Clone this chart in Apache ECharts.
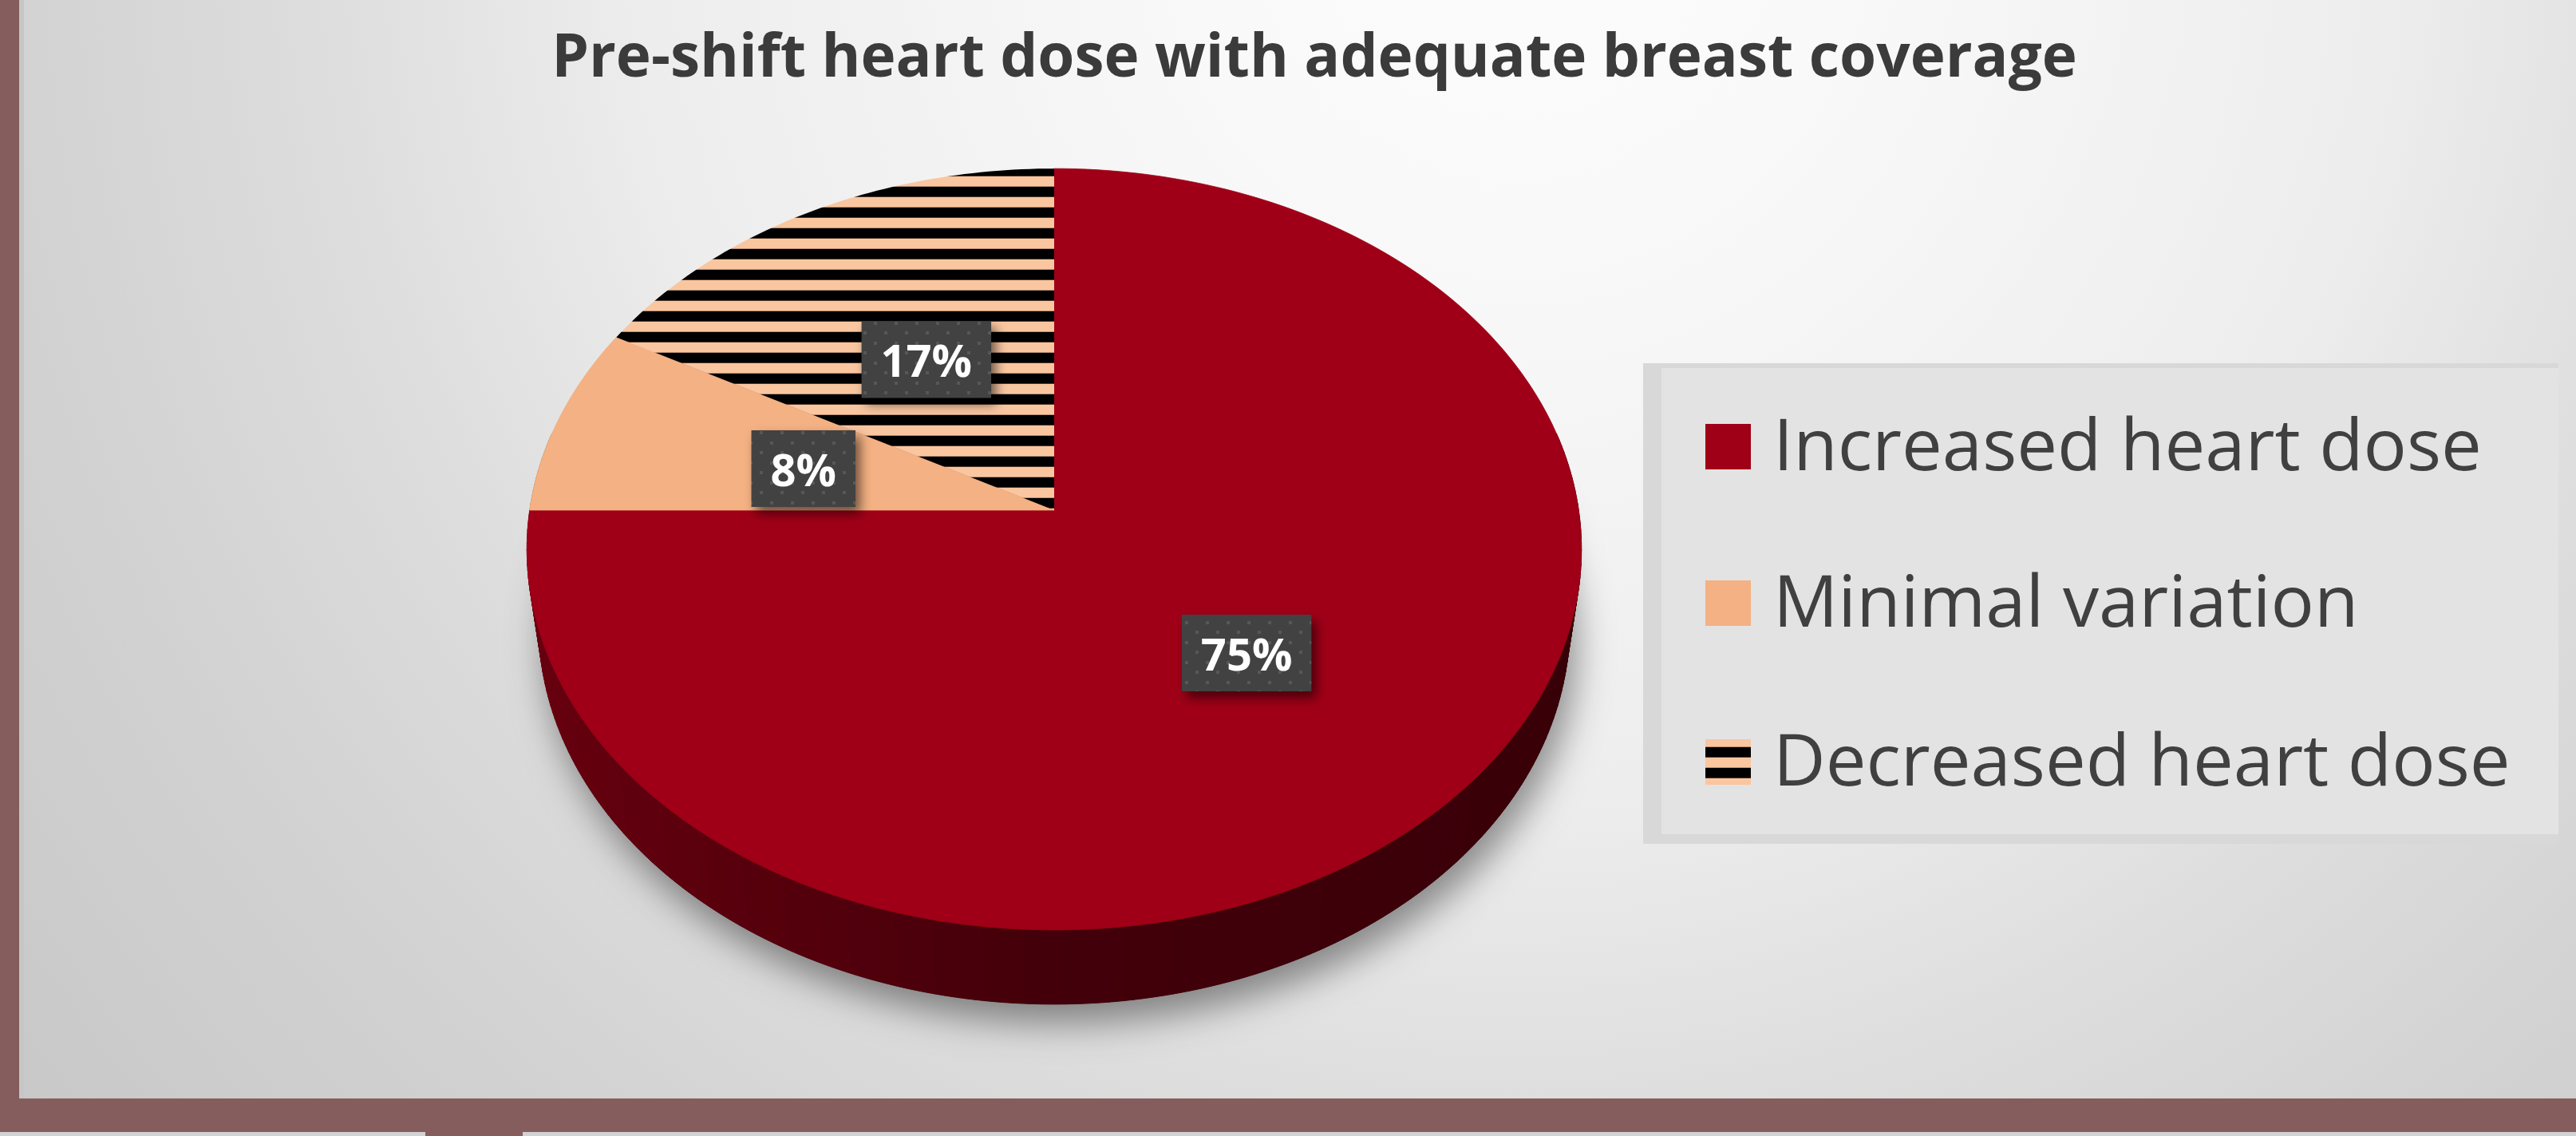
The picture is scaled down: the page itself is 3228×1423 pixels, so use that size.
<!DOCTYPE html>
<html><head><meta charset="utf-8">
<script src="https://cdn.jsdelivr.net/npm/echarts@6/dist/echarts.min.js"></script>
<style>html,body{margin:0;padding:0;overflow:hidden;background:#ddd}#c{width:3228px;height:1423px}</style>
</head><body><div id="c"></div><script>
// ---- data ----
const titleText = 'Pre-shift heart dose with adequate breast coverage';
const categories = ['Increased heart dose', 'Minimal variation', 'Decreased heart dose'];
const values = [75, 8, 17];

// ---- styles ----
const BROWN = '#855D5D';
const sliceColors = ['#9F0017', '#F4B183', 'stripes'];
const wallBase = ['#9F0017', '#F4B183', '#F4B183'];

function stripeCanvas() {
  const c = document.createElement('canvas'); c.width = 4; c.height = 26;
  const g = c.getContext('2d');
  g.fillStyle = '#f9c6a0'; g.fillRect(0, 0, 4, 26);
  g.fillStyle = '#000'; g.fillRect(0, 0, 4, 12);
  g.fillStyle = '#4a3426'; g.fillRect(0, 12, 4, 1);
  g.fillStyle = '#b89077'; g.fillRect(0, 25, 4, 1);
  return c;
}
function dotCanvas() {
  const c = document.createElement('canvas'); c.width = 26; c.height = 25;
  const g = c.getContext('2d');
  g.fillStyle = '#424242'; g.fillRect(0, 0, 26, 25);
  g.fillStyle = '#575757'; g.fillRect(3, 3, 4, 4); g.fillRect(16, 15, 4, 4);
  return c;
}
const STRIPES = { image: stripeCanvas(), repeat: 'repeat' };
const DOTS = { image: dotCanvas(), repeat: 'repeat' };
function fillOf(i) { return sliceColors[i] === 'stripes' ? STRIPES : sliceColors[i]; }

function shade(hex, f) {
  const n = parseInt(hex.slice(1), 16);
  const r = Math.round(((n >> 16) & 255) * f), g = Math.round(((n >> 8) & 255) * f), b = Math.round((n & 255) * f);
  return 'rgb(' + r + ',' + g + ',' + b + ')';
}

const mctx = document.createElement('canvas').getContext('2d');
function measure(t, font) { mctx.font = font; return mctx.measureText(t).width; }
function fitSize(text, weight, family, target) {
  const w = measure(text, weight + ' 100px "' + family + '"');
  return 100 * target / w;
}

// perspective projection of the tilted pie
function makeProj(k) {
  const cx = 1321 * k, cy = 639 * k, F = 4449 * k, D = 6.77, s = 0.718, c = 0.696;
  return function (theta, r, h) {
    const X = r * Math.sin(theta), Z = -r * Math.cos(theta);
    const yc = Z * s + h * c, d = D - Z * c + h * s;
    return [cx + F * X / d, cy + F * yc / d];
  };
}
const DEPTH = 0.213;

const total = values.reduce((a, b) => a + b, 0);
const starts = []; { let acc = 0; values.forEach(v => { starts.push(acc); acc += v; }); }

function renderItem(params, api) {
  const i = params.dataIndex;
  const W = api.getWidth();
  const k = W / 3228;
  const P = makeProj(k);
  const v = api.value(0);
  const a0 = starts[i] / total * 2 * Math.PI, a1 = (starts[i] + v) / total * 2 * Math.PI;
  const children = [];
  const n = Math.max(4, Math.ceil((a1 - a0) / (Math.PI / 180)));

  if (i === 0) {
    const bottom = [];
    for (let j = 0; j < 360; j++) bottom.push(P(j * Math.PI / 180, 1, DEPTH));
    children.push({ type: 'polygon', shape: { points: bottom }, z2: 0,
      style: { fill: '#3a0008', shadowBlur: 45 * k, shadowOffsetX: 8 * k, shadowOffsetY: 24 * k, shadowColor: 'rgba(0,0,0,0.42)' } });
  }
  // side wall
  for (let j = 0; j < n; j++) {
    const t0 = a0 + (a1 - a0) * j / n, t1 = a0 + (a1 - a0) * (j + 1) / n;
    const tm = (t0 + t1) / 2;
    if (-Math.cos(tm) < -0.2) continue;
    const X = Math.sin(tm);
    const f = X >= 0 ? 0.42 - 0.07 * X : 0.42 + 0.24 * (-X);
    const col = shade(wallBase[i], f);
    children.push({ type: 'polygon', z2: 10 + Math.round(20 - 20 * Math.cos(tm)),
      shape: { points: [P(t0, 1, 0), P(t1, 1, 0), P(t1, 1, DEPTH), P(t0, 1, DEPTH)] },
      style: { fill: col, stroke: col, lineWidth: 1 } });
  }
  // top face
  const top = [P(0, 0, 0)];
  for (let j = 0; j <= n; j++) top.push(P(a0 + (a1 - a0) * j / n, 1, 0));
  const fl = fillOf(i);
  children.push({ type: 'polygon', shape: { points: top }, z2: 100,
    style: typeof fl === 'string' ? { fill: fl, stroke: fl, lineWidth: 0.8 } : { fill: fl } });

  // data label
  const mid = (a0 + a1) / 2;
  const p = P(mid, 0.5, 0);
  const lx = p[0], ly = p[1] + 6 * k;
  const txt = v + '%';
  const fs = 56 * k;
  const tw = measure(txt, 'bold ' + fs + 'px "Open Sans"');
  const bw = tw + 48 * k, bh = 96 * k;
  children.push({ type: 'rect', z2: 200, shape: { x: lx - bw / 2, y: ly - bh / 2, width: bw, height: bh },
    style: { fill: DOTS, shadowBlur: 14 * k, shadowOffsetX: 6 * k, shadowOffsetY: 8 * k, shadowColor: 'rgba(0,0,0,0.55)' } });
  children.push({ type: 'text', z2: 201, x: lx, y: ly + 6 * k,
    style: { text: txt, fill: '#ffffff', fontSize: fs, fontWeight: 'bold', fontFamily: 'Open Sans',
      align: 'center', verticalAlign: 'middle', textAlign: 'center', textVerticalAlign: 'middle' } });

  return { type: 'group', children: children };
}

const W = 3228, H = 1423;
const titleSize = fitSize(titleText, 'bold', 'Open Sans', 1912);
const legendSize = fitSize(categories[0], 'normal', 'Open Sans', 888);

const legendRows = [559, 755, 954];
const legendEls = [
  { type: 'rect', shape: { x: 2059, y: 455, width: 1147, height: 602 }, style: { fill: '#d8d8d8' } },
  { type: 'rect', shape: { x: 2082, y: 461, width: 1124, height: 584 }, style: { fill: '#e3e3e3' } }
];
categories.forEach((name, i) => {
  legendEls.push({ type: 'rect', shape: { x: 2137, y: legendRows[i] - 28, width: 57, height: 57 }, style: { fill: fillOf(i) } });
  legendEls.push({ type: 'text', x: 2222, y: legendRows[i] + 4,
    style: { text: name, fill: '#404040', fontSize: legendSize, fontFamily: 'Open Sans', fontWeight: 'normal',
      align: 'left', verticalAlign: 'middle', textAlign: 'left', textVerticalAlign: 'middle' } });
});

const bg = new echarts.graphic.RadialGradient(1900, -100, 2400, [
  { offset: 0, color: '#fcfcfc' }, { offset: 0.17, color: '#f9f9f9' }, { offset: 0.46, color: '#ededed' },
  { offset: 0.63, color: '#dddddd' }, { offset: 0.79, color: '#d2d2d2' }, { offset: 1, color: '#c8c8c8' }
], true);

const chart = echarts.init(document.getElementById('c'), null, { renderer: 'canvas' });
chart.setOption({
  animation: false,
  graphic: [
    { type: 'rect', z: -10, shape: { x: 0, y: 0, width: W, height: H }, style: { fill: bg } },
    { type: 'rect', shape: { x: 24, y: 0, width: 6, height: 1376 }, style: { fill: '#c6c6c6' } },
    { type: 'rect', shape: { x: 0, y: 0, width: 24, height: 1418 }, style: { fill: BROWN } },
    { type: 'rect', shape: { x: 0, y: 1376, width: W, height: 42 }, style: { fill: BROWN } },
    { type: 'rect', shape: { x: 0, y: 1418, width: W, height: 5 }, style: { fill: '#d2d2d2' } },
    { type: 'rect', shape: { x: 533, y: 1418, width: 122, height: 5 }, style: { fill: BROWN } },
    { type: 'text', x: 1647, y: 75,
      style: { text: titleText, fill: '#3b3b3b', fontSize: titleSize, fontWeight: 'bold', fontFamily: 'Open Sans',
        align: 'center', verticalAlign: 'middle', textAlign: 'center', textVerticalAlign: 'middle' } },
    { type: 'group', children: legendEls }
  ],
  series: [{
    type: 'custom', coordinateSystem: 'none', silent: true,
    renderItem: renderItem,
    data: values.map((v, i) => ({ name: categories[i], value: v }))
  }]
});
</script></body></html>
